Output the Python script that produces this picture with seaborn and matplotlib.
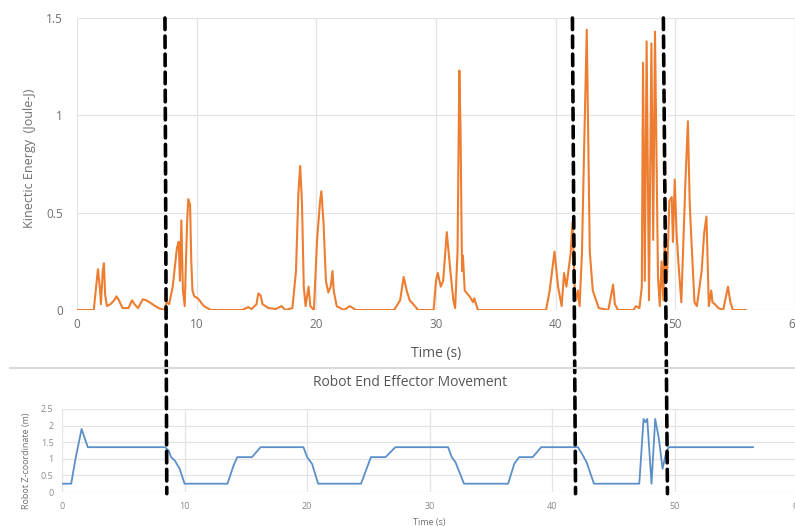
import numpy as np
import pandas as pd
import matplotlib
matplotlib.use('Agg')
import matplotlib.pyplot as plt
from matplotlib.patches import ConnectionPatch
from matplotlib.lines import Line2D
import seaborn as sns

# kinetic energy trace (time in s, energy in J)
ke_time = [0.0, 1.4, 1.6, 1.75, 1.9, 2.0, 2.15, 2.25, 2.35, 2.5, 2.8, 3.1, 3.3, 3.5, 3.8, 4.3,
           4.6, 4.8, 5.1, 5.5, 5.8, 6.3, 6.8, 7.3, 7.5, 7.7, 8.0, 8.35, 8.5, 8.6, 8.72, 8.85,
           9.0, 9.2, 9.3, 9.45, 9.55, 9.65, 9.8, 10.1, 10.6, 11.2, 13.8, 14.3, 14.6, 15.0,
           15.15, 15.35, 15.5, 16.0, 16.6, 17.1, 17.4, 18.0, 18.3, 18.5, 18.65, 18.8, 18.95,
           19.1, 19.35, 19.5, 19.8, 20.05, 20.3, 20.42, 20.6, 20.8, 21.0, 21.2, 21.35, 21.45,
           21.7, 22.3, 22.8, 23.3, 26.5, 27.0, 27.3, 27.55, 27.8, 28.1, 28.5, 29.8, 30.0,
           30.15, 30.4, 30.6, 30.9, 31.2, 31.45, 31.6, 31.8, 31.95, 32.05, 32.12, 32.18,
           32.25, 32.4, 32.8, 33.1, 33.2, 33.5, 39.2, 39.5, 39.9, 40.2, 40.5, 40.7, 40.9,
           41.25, 41.4, 41.6, 41.7, 41.85, 42.0, 42.2, 42.35, 42.6, 42.72, 42.85, 43.1, 43.6,
           44.4, 44.65, 44.8, 44.95, 45.2, 46.5, 46.7, 47.0, 47.2, 47.3, 47.45, 47.6, 47.8,
           48.0, 48.15, 48.3, 48.55, 48.7, 48.85, 49.0, 49.1, 49.3, 49.5, 49.7, 49.8, 49.95,
           50.1, 50.25, 50.5, 50.85, 51.05, 51.2, 51.35, 51.6, 51.8, 52.2, 52.4, 52.6, 52.8,
           53.0, 53.1, 53.3, 53.6, 54.0, 54.2, 54.4, 54.6, 54.8, 55.9]
ke_value = [0.0, 0.0, 0.12, 0.21, 0.12, 0.03, 0.2, 0.24, 0.08, 0.02, 0.03, 0.05, 0.07, 0.05, 0.01, 0.01,
            0.05, 0.03, 0.01, 0.055, 0.05, 0.03, 0.01, 0.0, 0.04, 0.03, 0.12, 0.32, 0.35, 0.15, 0.46, 0.1,
            0.02, 0.45, 0.57, 0.54, 0.25, 0.1, 0.07, 0.06, 0.02, 0.0, 0.0, 0.015, 0.005, 0.03,
            0.085, 0.075, 0.03, 0.01, 0.005, 0.02, 0.0, 0.01, 0.2, 0.6, 0.74, 0.55, 0.12,
            0.02, 0.12, 0.02, 0.0, 0.35, 0.55, 0.61, 0.45, 0.15, 0.09, 0.12, 0.2, 0.1,
            0.02, 0.0, 0.02, 0.0, 0.0, 0.05, 0.17, 0.1, 0.05, 0.03, 0.0, 0.0, 0.15,
            0.19, 0.12, 0.15, 0.4, 0.2, 0.05, 0.01, 0.3, 1.23, 0.93, 0.5, 0.2,
            0.28, 0.1, 0.07, 0.04, 0.06, 0.0, 0.0, 0.1, 0.3, 0.12, 0.02, 0.19, 0.12,
            0.29, 0.45, 0.1, 0.05, 0.1, 0.02, 0.3, 0.75, 1.44, 0.9, 0.3, 0.1, 0.01,
            0.0, 0.08, 0.13, 0.03, 0.0, 0.0, 0.02, 0.01, 0.12, 1.27, 0.15, 1.38, 0.05,
            1.37, 0.36, 1.43, 0.17, 0.02, 0.25, 0.05, 0.35, 0.15, 0.56, 0.58, 0.35, 0.67,
            0.4, 0.25, 0.04, 0.67, 0.97, 0.55, 0.35, 0.04, 0.02, 0.2, 0.39, 0.48, 0.02,
            0.1, 0.04, 0.03, 0.01, 0.0, 0.06, 0.12, 0.04, 0.0, 0.0]

# robot end effector z coordinate (m)
z_time = [0.0, 0.75, 1.1, 1.6, 2.1, 8.4, 8.7, 8.9, 9.2, 9.6, 10.0, 13.5, 14.0, 14.3, 15.5, 16.2,
          19.7, 20.0, 20.4, 20.9, 24.4, 25.2, 26.4, 27.2, 31.5, 31.8, 32.1, 32.8, 36.4, 36.9,
          37.3, 38.4, 39.1, 42.1, 42.5, 42.8, 43.4, 47.1, 47.45, 47.6, 47.75, 48.1, 48.4,
          48.7, 49.0, 49.3, 49.5, 56.4]
z_value = [0.25, 0.25, 1.0, 1.9, 1.35, 1.35, 1.25, 1.05, 0.95, 0.7, 0.25, 0.25, 0.8, 1.05, 1.05, 1.35,
           1.35, 1.05, 0.85, 0.25, 0.25, 1.05, 1.05, 1.35, 1.35, 1.05, 0.9, 0.25, 0.25, 0.85,
           1.05, 1.05, 1.35, 1.35, 1.1, 0.9, 0.25, 0.25, 2.2, 2.1, 2.2, 0.25, 2.2,
           1.6, 0.7, 1.2, 1.35, 1.35]

# event markers (dashed lines), where they cross each panel
event_top = [7.35, 41.4, 49.0]
event_bottom = [8.55, 41.9, 49.4]

ke_df = pd.DataFrame({'time': ke_time, 'ke': ke_value})
z_df = pd.DataFrame({'time': z_time, 'z': z_value})

sns.set_theme(style='whitegrid')
plt.rcParams['font.family'] = ['Open Sans', 'DejaVu Sans']

grid_c = '#E4E4E4'
txt_c = '#6E6E6E'

fig = plt.figure(figsize=(7.95, 5.26), dpi=100)
ax1 = fig.add_axes([77/795, 1-310/526, 1-77/795, (310-18)/526])
ax2 = fig.add_axes([62/795, 1-492/526, 1.003-62/795, (492-409)/526])

# top: kinetic energy
sns.lineplot(data=ke_df, x='time', y='ke', ax=ax1, color='#ED7D31', linewidth=1.5,
             estimator=None, sort=False)
ax1.set_xlim(0, 60)
ax1.set_ylim(0, 1.5)
ax1.set_xticks([0, 10, 20, 30, 40, 50, 60])
ax1.set_yticks([0, 0.5, 1, 1.5])
ax1.set_yticklabels(['0', '0.5', '1', '1.5'])
ax1.set_xlabel('Time (s)', fontsize=10, color='#555555')
ax1.set_ylabel('Kinectic Energy  (Joule-J)', fontsize=9, color=txt_c)
ax1.xaxis.set_label_coords(0.5, -0.125)
ax1.yaxis.set_label_coords(-0.057, 0.52)
ax1.tick_params(axis='both', labelsize=8.5, colors=txt_c, length=0)
ax1.tick_params(axis='y', pad=10)
ax1.tick_params(axis='x', pad=6)

# bottom: robot z coordinate
sns.lineplot(data=z_df, x='time', y='z', ax=ax2, color='#5B8FC7', linewidth=1.3,
             estimator=None, sort=False)
ax2.set_xlim(0, 60)
ax2.set_ylim(0, 2.5)
ax2.set_xticks([0, 10, 20, 30, 40, 50, 60])
ax2.set_yticks([0, 0.5, 1, 1.5, 2, 2.5])
ax2.set_yticklabels(['0', '0.5', '1', '1.5', '2', '2.5'])
ax2.set_xlabel('Time (s)', fontsize=6.5, color=txt_c)
ax2.set_ylabel('Robot Z-coordinate (m)', fontsize=6.5, color=txt_c)
ax2.xaxis.set_label_coords(0.5, -0.31)
ax2.yaxis.set_label_coords(-0.042, 0.38)
ax2.tick_params(axis='both', labelsize=6.5, colors='#8A8A8A', length=0)
ax2.tick_params(axis='y', pad=6)
ax2.tick_params(axis='x', pad=7)

for ax in (ax1, ax2):
    ax.grid(True, color=grid_c, linewidth=0.9)
    ax.set_facecolor('white')
    for s in ax.spines.values():
        s.set_visible(False)

fig.text(410/795, 1-383/526, 'Robot End Effector Movement', ha='center', va='center',
         fontsize=10, color='#555555')

# separator between the two panels
fig.add_artist(Line2D([10/795, 1.0], [1-368/526, 1-368/526], transform=fig.transFigure,
                      color='#DADADA', linewidth=1.5))

# dashed event lines across both panels
for t_top, t_bot in zip(event_top, event_bottom):
    con = ConnectionPatch(xyA=(t_top, 1.5), coordsA=ax1.transData,
                          xyB=(t_bot, -0.05), coordsB=ax2.transData,
                          color='black', linewidth=2.6, linestyle=(0, (3.2, 1.8)))
    fig.add_artist(con)

fig.savefig('out.png', dpi=100, facecolor='white')
